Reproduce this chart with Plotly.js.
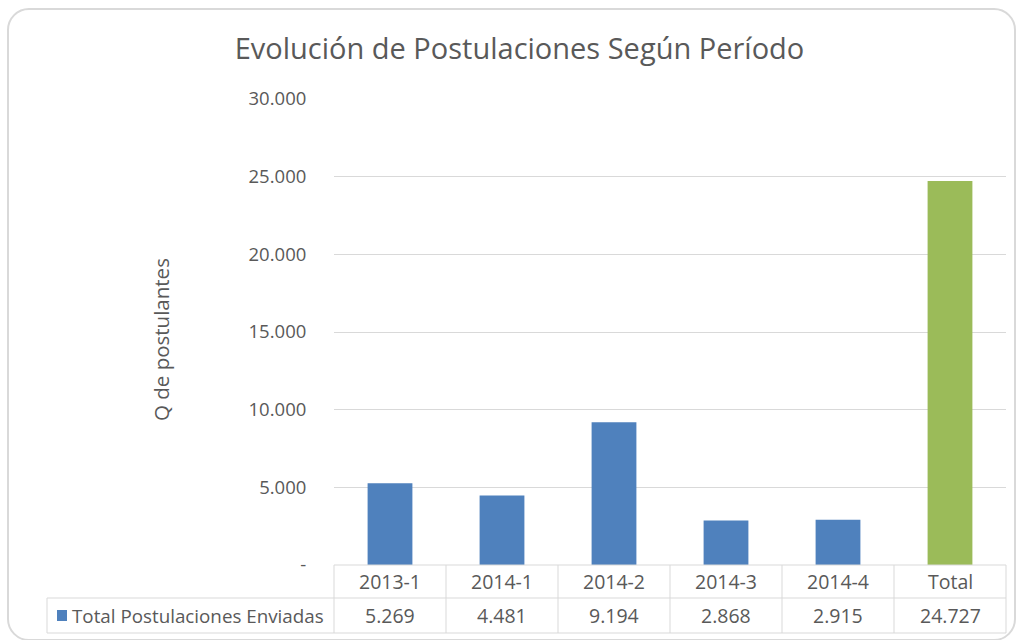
<!DOCTYPE html>
<html>
<head>
<meta charset="utf-8">
<script src="https://cdn.plot.ly/plotly-3.0.1.min.js"></script>
<style>
  body { margin: 0; background: #fff; }
  #wrap { position: relative; width: 1021px; height: 640px; overflow: hidden; }
  #card {
    position: absolute; left: 7px; top: 8px; width: 1005px; height: 629px;
    border: 2px solid #d9d9d9; border-radius: 22px;
  }
  #graph { position: absolute; left: 0; top: 0; width: 1021px; height: 640px; }
</style>
</head>
<body>
<div id="wrap">
  <div id="card"></div>
  <div id="graph"></div>
</div>
<script>
var periods = ['2013-1', '2014-1', '2014-2', '2014-3', '2014-4', 'Total']
var postulaciones = [5269, 4481, 9194, 2868, 2915, 24727]
var tickValues = [0, 5000, 10000, 15000, 20000, 25000, 30000]
var seriesName = 'Total Postulaciones Enviadas'

var blue = '#4f81bd'
var green = '#9bbb59'
var textColor = '#595959'
var lineColor = '#d9d9d9'
var font = 'Open Sans, sans-serif'

// plot area in pixels
var L = 334, R = 1006, T = 99, B = 565
function px (x) { return (x - L) / (R - L) }
function py (y) { return (B - y) / (B - T) }

function fmt (v) {
  if (v === 0) return '-'
  return v.toString().replace(/\B(?=(\d{3})+(?!\d))/g, '.')
}

var data = [{
  type: 'bar',
  x: periods,
  y: postulaciones,
  name: seriesName,
  marker: { color: periods.map(p => p === 'Total' ? green : blue) },
  hoverinfo: 'x+y'
}]

var shapes = []
var annotations = []

// table grid
var n = periods.length
for (var k = 0; k <= n; k++) {
  shapes.push({ type: 'line', xref: 'paper', yref: 'paper', x0: k / n, x1: k / n, y0: py(565), y1: py(633), line: { color: lineColor, width: 1 } })
}
shapes.push({ type: 'line', xref: 'paper', yref: 'paper', x0: 0, x1: 1, y0: py(565), y1: py(565), line: { color: lineColor, width: 1 } })
shapes.push({ type: 'line', xref: 'paper', yref: 'paper', x0: px(47), x1: 1, y0: py(598), y1: py(598), line: { color: lineColor, width: 1 } })
shapes.push({ type: 'line', xref: 'paper', yref: 'paper', x0: px(47), x1: 1, y0: py(633), y1: py(633), line: { color: lineColor, width: 1 } })
shapes.push({ type: 'line', xref: 'paper', yref: 'paper', x0: px(47), x1: px(47), y0: py(598), y1: py(633), line: { color: lineColor, width: 1 } })
// legend key
shapes.push({ type: 'rect', xref: 'paper', yref: 'paper', x0: px(57), x1: px(67), y0: py(621), y1: py(610), fillcolor: blue, line: { width: 0 } })

periods.forEach(function (p, i) {
  annotations.push({ x: p, xref: 'x', y: py(581), yref: 'paper', text: p, showarrow: false, xanchor: 'center', yanchor: 'middle', font: { family: font, size: 19.5, color: textColor } })
  annotations.push({ x: p, xref: 'x', y: py(615.5), yref: 'paper', text: fmt(postulaciones[i]), showarrow: false, xanchor: 'center', yanchor: 'middle', font: { family: font, size: 19.5, color: textColor } })
})
annotations.push({ x: px(70), xref: 'paper', y: py(615.5), yref: 'paper', text: seriesName, showarrow: false, xanchor: 'left', yanchor: 'middle', font: { family: font, size: 18.8, color: textColor } })
annotations.push({ x: px(161), xref: 'paper', y: py(340), yref: 'paper', text: 'Q de postulantes', textangle: -90, showarrow: false, xanchor: 'center', yanchor: 'middle', font: { family: font, size: 20.5, color: textColor } })

var layout = {
  width: 1021,
  height: 640,
  margin: { l: L, r: 1021 - R, t: T, b: 640 - B },
  paper_bgcolor: 'rgba(0,0,0,0)',
  plot_bgcolor: 'rgba(0,0,0,0)',
  showlegend: false,
  bargap: 0.6,
  title: {
    text: 'Evolución de Postulaciones Según Período',
    x: 519.5 / 1021, xref: 'container', xanchor: 'center',
    y: 1 - 49 / 640, yref: 'container', yanchor: 'middle',
    font: { family: font, size: 29, color: textColor }
  },
  xaxis: {
    type: 'category',
    range: [-0.5, n - 0.5],
    showticklabels: false,
    showgrid: false,
    zeroline: false,
    showline: false,
    ticks: ''
  },
  yaxis: {
    range: [0, 30000],
    tickvals: tickValues,
    ticktext: tickValues.map(fmt),
    ticks: 'outside',
    ticklen: 23,
    tickcolor: 'rgba(0,0,0,0)',
    tickfont: { family: font, size: 18.5, color: textColor },
    gridcolor: lineColor,
    gridwidth: 1,
    zeroline: false,
    showline: false
  },
  shapes: shapes,
  annotations: annotations
}

Plotly.newPlot('graph', data, layout, { displayModeBar: false })
</script>
</body>
</html>
